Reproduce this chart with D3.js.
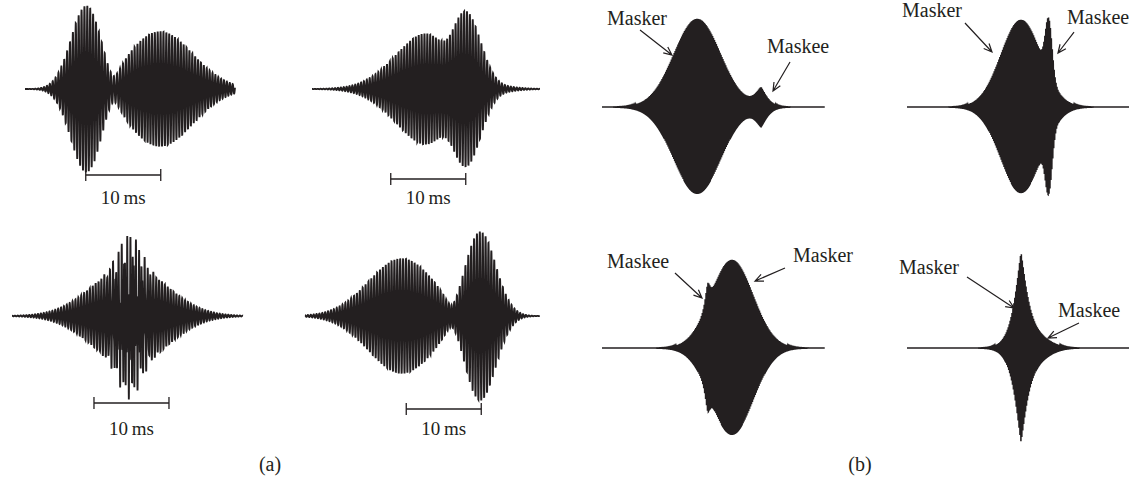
<!DOCTYPE html>
<html>
<head>
<meta charset="utf-8">
<script src="https://cdn.jsdelivr.net/npm/d3@7"></script>
<style>
  body { margin: 0; background: #fff; }
  svg text { font-family: "Liberation Serif", "DejaVu Serif", serif; fill: #231f20; }
</style>
</head>
<body>
<svg id="fig" width="1130" height="477"></svg>
<script>
// values: times in ms, amplitudes relative to full scale
var panelIds = ["a1", "a2", "a3", "a4", "b1", "b2", "b3", "b4"];
var durations = [28, 30.4, 30.8, 31.3, 29.7, 29.6, 29.7, 29.6];
var atomCenters = [[8.27, 18.0], [15.7, 20.4], [15.7, 15.7], [12.9, 23.3], [12.7, 21.2], [15.2, 18.9], [17.33, 14.1], [15.2, 17.07]];
var atomWidths = [[2.1, 4.4], [4.4, 2.1], [1.47, 4.87], [4.4, 2.1], [3.1, 0.65], [2.67, 0.45], [2.8, 0.28], [0.66, 2.0]];
var atomAmps = [[0.97, 0.64], [0.64, 0.97], [0.37, 0.56], [0.64, 0.97], [0.98, 0.2], [0.97, 0.62], [0.98, 0.22], [0.99, 0.11]];
var atomShapes = [[2, 2], [2, 2], [2, 2], [2, 2], [2, 1.3], [2, 2], [2, 1.5], [1.2, 2]];
var atomFreqs = [[2.6, 2.6], [2.6, 2.6], [6.9, 2.6], [2.6, 2.6], [8, 8], [8, 8], [8, 8], [8, 8]]; // kHz
var atomPhases = [[0.8, 0], [0, 0.65], [0, 0], [0, 0.8], [0, 0], [0, 0], [0, 0], [0, 0]]; // times pi
var atomRoles = [[], [], [], [], ["Masker", "Maskee"], ["Masker", "Maskee"], ["Masker", "Maskee"], ["Masker", "Maskee"]];
var scaleBarStarts = [8.1, 10.5, 10.93, 13.5]; // ms, (a) panels
var scaleBarLength = 10;
var scaleBarText = "10\u2009ms";
var captions = ["(a)", "(b)"];

// layout
var pxPerMs = 7.5, ampPx = 90;
var layout = [
  { x0: 25,  base: 89,  barY: 175, textY: 204 },
  { x0: 312, base: 89,  barY: 179, textY: 204 },
  { x0: 12,  base: 316, barY: 403, textY: 435 },
  { x0: 305, base: 316, barY: 409, textY: 435 },
  { x0: 602, base: 107, notes: [
      { text: [0.67, 0.91],  from: [5.07, 0.856],  to: [9.33, 0.578] },
      { text: [22.0, 0.6],   from: [25.07, 0.5],   to: [22.8, 0.178] } ] },
  { x0: 907, base: 107, notes: [
      { text: [-0.67, 1.0],   from: [7.73, 0.933], to: [11.33, 0.611] },
      { text: [21.33, 0.922], from: [22.27, 0.833], to: [20.13, 0.6] } ] },
  { x0: 602, base: 348, notes: [
      { text: [25.47, 0.956], from: [24.4, 0.889], to: [20.4, 0.744] },
      { text: [0.67, 0.889],  from: [9.73, 0.833], to: [13.33, 0.556] } ] },
  { x0: 907, base: 348, notes: [
      { text: [-1.07, 0.822], from: [8.0, 0.789],  to: [14.27, 0.444] },
      { text: [20.13, 0.344], from: [22.93, 0.278], to: [18.8, 0.111] } ] }
];
var captionPos = [[270, 471], [860, 471]];
var ink = "#231f20";

var svg = d3.select("#fig");

function envelope(t, c, w, p) {
  return Math.exp(-0.5 * Math.pow(Math.abs(t - c) / w, p));
}

panelIds.forEach(function (id, i) {
  var L = layout[i];
  var dur = durations[i];
  var x = d3.scaleLinear().domain([0, dur]).range([L.x0, L.x0 + dur * pxPerMs]);
  var y = d3.scaleLinear().domain([-1, 1]).range([L.base + ampPx, L.base - ampPx]);
  var g = svg.append("g").attr("id", id);

  // waveform: sum of windowed tones
  var perPx = i < 4 ? 12 : 16;
  var dt = 1 / (pxPerMs * perPx);
  var samples = d3.range(0, dur + dt / 2, dt).map(function (t) {
    var s = 0;
    for (var k = 0; k < atomCenters[i].length; k++) {
      s += atomAmps[i][k] * envelope(t, atomCenters[i][k], atomWidths[i][k], atomShapes[i][k]) *
        Math.cos(2 * Math.PI * atomFreqs[i][k] * t + atomPhases[i][k] * Math.PI);
    }
    return [t, s];
  });

  var line = d3.line()
    .x(function (d) { return x(d[0]); })
    .y(function (d) { return y(d[1]); });

  g.append("path")
    .datum(samples)
    .attr("d", line)
    .attr("fill", "none")
    .attr("stroke", ink)
    .attr("stroke-width", i < 4 ? 1.85 : 1.5);

  // scale bar for the (a) panels
  if (i < 4) {
    var b0 = x(scaleBarStarts[i]), b1 = x(scaleBarStarts[i] + scaleBarLength);
    g.append("line")
      .attr("x1", b0).attr("x2", b1)
      .attr("y1", L.barY).attr("y2", L.barY)
      .attr("stroke", ink).attr("stroke-width", 1.3);
    [b0, b1].forEach(function (bx) {
      g.append("line")
        .attr("x1", bx).attr("x2", bx)
        .attr("y1", L.barY - 6).attr("y2", L.barY + 6)
        .attr("stroke", ink).attr("stroke-width", 1.3);
    });
    g.append("text")
      .attr("x", (b0 + b1) / 2)
      .attr("y", L.textY)
      .attr("text-anchor", "middle")
      .style("font-size", "19px")
      .text(scaleBarText);
  }

  // Masker / Maskee labels with arrows
  if (L.notes) {
    L.notes.forEach(function (n, k) {
      g.append("text")
        .attr("x", x(n.text[0]))
        .attr("y", y(n.text[1]))
        .style("font-size", "20px")
        .text(atomRoles[i][k]);

      var fx = x(n.from[0]), fy = y(n.from[1]);
      var tx = x(n.to[0]), ty = y(n.to[1]);
      var ang = Math.atan2(ty - fy, tx - fx);
      var head = 9, spread = 0.42;
      var p = d3.path();
      p.moveTo(fx, fy); p.lineTo(tx, ty);
      p.moveTo(tx - head * Math.cos(ang - spread), ty - head * Math.sin(ang - spread));
      p.lineTo(tx, ty);
      p.lineTo(tx - head * Math.cos(ang + spread), ty - head * Math.sin(ang + spread));
      g.append("path")
        .attr("d", p.toString())
        .attr("fill", "none")
        .attr("stroke", ink)
        .attr("stroke-width", 1.2);
    });
  }
});

captions.forEach(function (c, i) {
  svg.append("text")
    .attr("x", captionPos[i][0])
    .attr("y", captionPos[i][1])
    .attr("text-anchor", "middle")
    .style("font-size", "20px")
    .text(c);
});
</script>
</body>
</html>
